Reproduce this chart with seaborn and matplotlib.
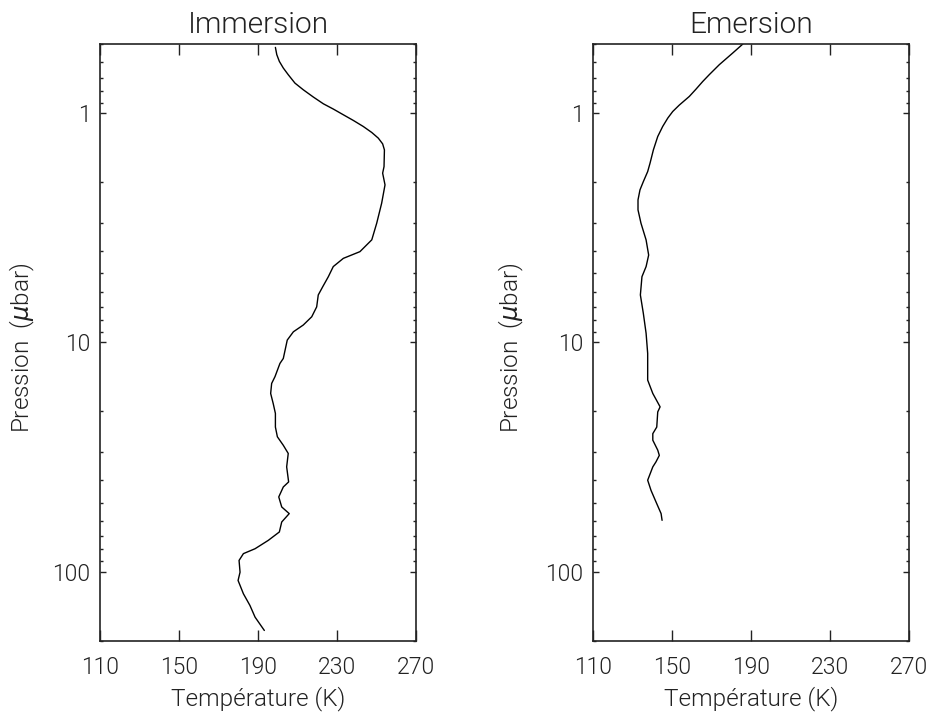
import numpy as np
import pandas as pd
import seaborn as sns
import matplotlib.pyplot as plt
from matplotlib.ticker import FixedLocator, NullLocator, LogLocator, NullFormatter, FuncFormatter

# Immersion profile: temperature (K) vs pressure (microbar)
imm_temp = [198.8, 199.5, 200.8, 202.8, 205.3, 208.7, 212.9, 218.0, 223.1, 228.1,
            233.2, 238.3, 243.3, 247.6, 250.9, 253.1, 254.0, 253.8, 253.1,
            254.3, 252.6, 250.1, 247.6, 241.6, 233.2, 228.1, 225.6, 222.8, 220.5,
            219.7, 217.2, 212.9, 207.9, 204.8, 202.8, 201.1, 198.6, 196.9, 196.4,
            197.7, 198.8, 198.8, 199.8, 202.8, 205.3, 204.5, 205.5, 202.8, 200.5,
            202.0, 205.8, 202.0, 200.8, 195.2, 188.5, 182.6, 180.4, 180.9, 179.9,
            182.6, 185.9, 188.5, 193.2]
imm_pres = [0.517, 0.556, 0.595, 0.636, 0.680, 0.740, 0.791, 0.851, 0.911, 0.960,
            1.017, 1.077, 1.144, 1.215, 1.286, 1.362, 1.447, 1.711, 1.828,
            2.056, 2.471, 3.02, 3.57, 4.02, 4.30, 4.67, 5.17, 5.71, 6.21,
            7.0, 7.73, 8.40, 8.99, 9.77, 11.75, 12.35, 14.1, 15.1, 16.7,
            18.5, 20.4, 23.4, 25.8, 28.1, 30.5, 34.9, 40.6, 42.7, 47.2,
            52.2, 55.8, 60.7, 67.1, 73.0, 79.4, 83.4, 89.3, 100.5, 109.2,
            124.8, 140.3, 157.8, 180.4]

# Emersion profile
em_temp = [185.9, 180.8, 174.0, 168.9, 165.6, 162.2, 158.8, 153.7, 150.4, 147.9,
           145.3, 142.8, 140.6, 138.9, 137.7, 135.5, 133.8, 132.8, 132.8, 134.3,
           136.9, 138.2, 136.9, 134.8, 134.0, 135.5, 136.9,
           137.7, 137.7, 140.3, 144.0, 142.8, 142.3, 140.3, 140.3, 142.8, 143.6,
           141.9, 140.3, 137.7, 139.4, 142.3, 144.5, 145.0]
em_pres = [0.5, 0.547, 0.615, 0.680, 0.728, 0.786, 0.846, 0.923, 0.984, 1.051,
           1.144, 1.265, 1.446, 1.653, 1.799, 1.99, 2.162, 2.391, 2.643, 3.02,
           3.574, 4.16, 4.67, 5.17, 6.21, 7.47, 9.13,
           11.17, 14.6, 16.7, 19.1, 20.1, 23.4, 25.0, 26.7, 29.5, 31.1,
           33.2, 34.9, 39.9, 44.2, 50.5, 55.8, 59.7]

titles = ["Immersion", "Emersion"]
x_ticks = [110, 150, 190, 230, 270]
y_ticks = [1, 10, 100]

sns.set_style("white")
plt.rcParams["font.family"] = ["Roboto", "DejaVu Sans"]
plt.rcParams["font.weight"] = 300
plt.rcParams["axes.titleweight"] = 300
plt.rcParams["axes.labelweight"] = 300
plt.rcParams["mathtext.fontset"] = "dejavusans"

fig = plt.figure(figsize=(9.33, 7.12), dpi=100)
ax1 = fig.add_axes([0.1072, 0.1001, 0.3387, 0.838])
ax2 = fig.add_axes([0.6356, 0.1001, 0.3384, 0.838])

profiles = [
    pd.DataFrame({"T": imm_temp, "P": imm_pres}),
    pd.DataFrame({"T": em_temp, "P": em_pres}),
]
label_x = [-0.2, -0.212]
ink = "#222222"

for ax, df, title, lx in zip([ax1, ax2], profiles, titles, label_x):
    sns.lineplot(data=df, x="T", y="P", sort=False, estimator=None,
                 color="black", lw=1.0, ax=ax)
    ax.set_yscale("log")
    ax.set_xlim(110, 270)
    ax.set_ylim(200, 0.5)
    ax.xaxis.set_major_locator(FixedLocator(x_ticks))
    ax.xaxis.set_minor_locator(NullLocator())
    ax.yaxis.set_major_locator(FixedLocator(y_ticks))
    ax.yaxis.set_minor_locator(LogLocator(base=10, subs=np.arange(2, 10), numticks=20))
    ax.yaxis.set_minor_formatter(NullFormatter())
    ax.yaxis.set_major_formatter(FuncFormatter(lambda v, p: "%g" % v))
    ax.tick_params(which="both", direction="in", top=True, right=True,
                   bottom=True, left=True,
                   color=ink, labelcolor=ink, labelsize=16.5, width=1.0)
    ax.tick_params(axis="x", which="major", length=8, pad=11)
    ax.tick_params(axis="y", which="major", length=4.5, pad=7)
    ax.tick_params(axis="y", which="minor", length=2.2)
    for s in ax.spines.values():
        s.set_linewidth(1.2)
        s.set_color(ink)
    ax.set_title(title, fontsize=21.5, pad=8, color=ink)
    ax.set_xlabel("Température (K)", fontsize=17.5, labelpad=5, color=ink)
    ax.set_ylabel("Pression  ($\\mu$bar)", fontsize=17.5, color=ink)
    ax.yaxis.set_label_coords(lx, 0.49)

fig.savefig("out.png", dpi=100)
